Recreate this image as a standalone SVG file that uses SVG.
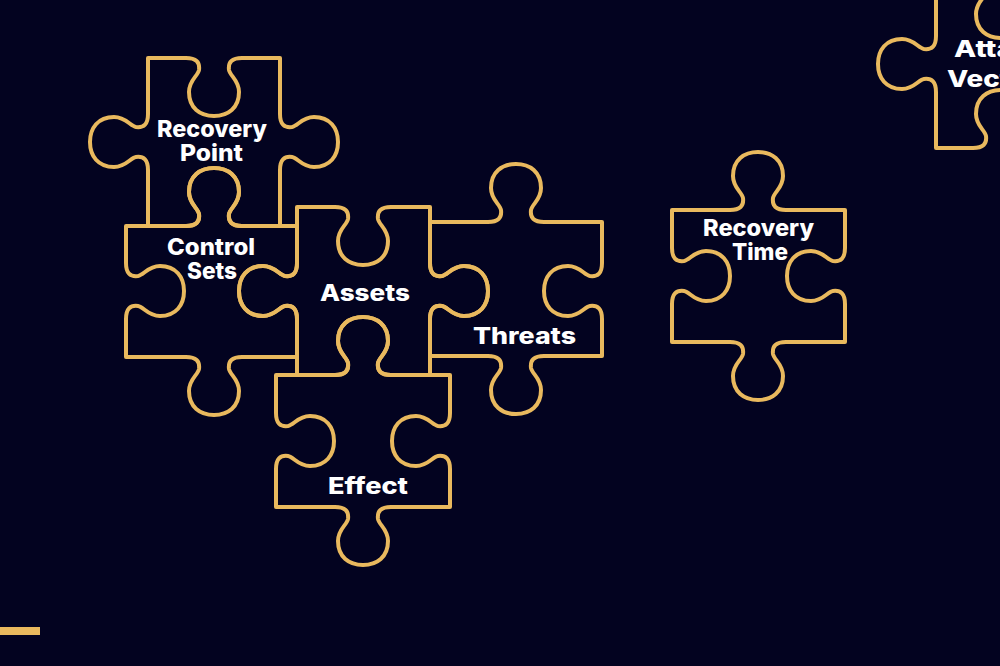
<svg xmlns="http://www.w3.org/2000/svg" width="1000" height="666" viewBox="0 0 1000 666">
<style>
.bg{fill:#030320}
.piece path{fill:none;stroke:#e9b95e;stroke-width:4;stroke-linejoin:round}
.lbl{font-family:Inter,"Liberation Sans",sans-serif;font-weight:800;font-size:23px;fill:#ffffff;text-anchor:middle}
</style>
<rect class="bg" x="0" y="0" width="1000" height="666"/>
<g id="recovery-point" class="piece">
<path d="M148,58 H186 c10,0 14,4 13,12 c-1,6 -10,10 -10,22 c0,16 11,24 25,24 c14,0 25,-8 25,-24 c0,-12 -9,-16 -10,-22 c-1,-8 3,-12 13,-12 H280 V114 c0,10 4,14 12,13 c6,-1 10,-10 22,-10 c16,0 24,11 24,25 c0,14 -8,25 -24,25 c-12,0 -16,-9 -22,-10 c-8,-1 -12,3 -12,13 V226 H242 c-10,0 -14,-4 -13,-12 c1,-6 10,-10 10,-22 c0,-16 -11,-24 -25,-24 c-14,0 -25,8 -25,24 c0,12 9,16 10,22 c1,8 -3,12 -13,12 H148 V170 c0,-10 -4,-14 -12,-13 c-6,1 -10,10 -22,10 c-16,0 -24,-11 -24,-25 c0,-14 8,-25 24,-25 c12,0 16,9 22,10 c8,1 12,-3 12,-13 V58 Z"/>
<text class="lbl"><tspan x="212" y="137" textLength="110" lengthAdjust="spacingAndGlyphs">Recovery</tspan><tspan x="211.5" y="161" textLength="63" lengthAdjust="spacingAndGlyphs">Point</tspan></text>
</g>
<g id="control-sets" class="piece">
<path d="M126,226 H186 c10,0 14,-4 13,-12 c-1,-6 -10,-10 -10,-22 c0,-16 11,-24 25,-24 c14,0 25,8 25,24 c0,12 -9,16 -10,22 c-1,8 3,12 13,12 H297 V263 c0,10 -4,14 -12,13 c-6,-1 -10,-10 -22,-10 c-16,0 -24,11 -24,25 c0,14 8,25 24,25 c12,0 16,-9 22,-10 c8,-1 12,3 12,13 V357 H242 c-10,0 -14,4 -13,12 c1,6 10,10 10,22 c0,16 -11,24 -25,24 c-14,0 -25,-8 -25,-24 c0,-12 9,-16 10,-22 c1,-8 -3,-12 -13,-12 H126 V319 c0,-10 4,-14 12,-13 c6,1 10,10 22,10 c16,0 24,-11 24,-25 c0,-14 -8,-25 -24,-25 c-12,0 -16,9 -22,10 c-8,1 -12,-3 -12,-13 V226 Z"/>
<text class="lbl"><tspan x="211" y="255" textLength="88" lengthAdjust="spacingAndGlyphs">Control</tspan><tspan x="212" y="279" textLength="50" lengthAdjust="spacingAndGlyphs">Sets</tspan></text>
</g>
<g id="assets" class="piece">
<path d="M297,207 H335 c10,0 14,4 13,12 c-1,6 -10,10 -10,22 c0,16 11,24 25,24 c14,0 25,-8 25,-24 c0,-12 -9,-16 -10,-22 c-1,-8 3,-12 13,-12 H430 V263 c0,10 4,14 12,13 c6,-1 10,-10 22,-10 c16,0 24,11 24,25 c0,14 -8,25 -24,25 c-12,0 -16,-9 -22,-10 c-8,-1 -12,3 -12,13 V375 H391 c-10,0 -14,-4 -13,-12 c1,-6 10,-10 10,-22 c0,-16 -11,-24 -25,-24 c-14,0 -25,8 -25,24 c0,12 9,16 10,22 c1,8 -3,12 -13,12 H297 V319 c0,-10 -4,-14 -12,-13 c-6,1 -10,10 -22,10 c-16,0 -24,-11 -24,-25 c0,-14 8,-25 24,-25 c12,0 16,9 22,10 c8,1 12,-3 12,-13 V207 Z"/>
<text class="lbl" x="365" y="301" textLength="90" lengthAdjust="spacingAndGlyphs">Assets</text>
</g>
<g id="threats" class="piece">
<path d="M430,222 H488 c10,0 14,-4 13,-12 c-1,-6 -10,-10 -10,-22 c0,-16 11,-24 25,-24 c14,0 25,8 25,24 c0,12 -9,16 -10,22 c-1,8 3,12 13,12 H602 V263 c0,10 -4,14 -12,13 c-6,-1 -10,-10 -22,-10 c-16,0 -24,11 -24,25 c0,14 8,25 24,25 c12,0 16,-9 22,-10 c8,-1 12,3 12,13 V356 H544 c-10,0 -14,4 -13,12 c1,6 10,10 10,22 c0,16 -11,24 -25,24 c-14,0 -25,-8 -25,-24 c0,-12 9,-16 10,-22 c1,-8 -3,-12 -13,-12 H430 V319 c0,-10 4,-14 12,-13 c6,1 10,10 22,10 c16,0 24,-11 24,-25 c0,-14 -8,-25 -24,-25 c-12,0 -16,9 -22,10 c-8,1 -12,-3 -12,-13 V222 Z"/>
<text class="lbl" x="524.5" y="344" textLength="103" lengthAdjust="spacingAndGlyphs">Threats</text>
</g>
<g id="effect" class="piece">
<path d="M276,375 H335 c10,0 14,-4 13,-12 c-1,-6 -10,-10 -10,-22 c0,-16 11,-24 25,-24 c14,0 25,8 25,24 c0,12 -9,16 -10,22 c-1,8 3,12 13,12 H450 V413 c0,10 -4,14 -12,13 c-6,-1 -10,-10 -22,-10 c-16,0 -24,11 -24,25 c0,14 8,25 24,25 c12,0 16,-9 22,-10 c8,-1 12,3 12,13 V507 H391 c-10,0 -14,4 -13,12 c1,6 10,10 10,22 c0,16 -11,24 -25,24 c-14,0 -25,-8 -25,-24 c0,-12 9,-16 10,-22 c1,-8 -3,-12 -13,-12 H276 V469 c0,-10 4,-14 12,-13 c6,1 10,10 22,10 c16,0 24,-11 24,-25 c0,-14 -8,-25 -24,-25 c-12,0 -16,9 -22,10 c-8,1 -12,-3 -12,-13 V375 Z"/>
<text class="lbl" x="368" y="494" textLength="80" lengthAdjust="spacingAndGlyphs">Effect</text>
</g>
<g id="recovery-time" class="piece">
<path d="M672,210 H730 c10,0 14,-4 13,-12 c-1,-6 -10,-10 -10,-22 c0,-16 11,-24 25,-24 c14,0 25,8 25,24 c0,12 -9,16 -10,22 c-1,8 3,12 13,12 H845 V248 c0,10 -4,14 -12,13 c-6,-1 -10,-10 -22,-10 c-16,0 -24,11 -24,25 c0,14 8,25 24,25 c12,0 16,-9 22,-10 c8,-1 12,3 12,13 V342 H786 c-10,0 -14,4 -13,12 c1,6 10,10 10,22 c0,16 -11,24 -25,24 c-14,0 -25,-8 -25,-24 c0,-12 9,-16 10,-22 c1,-8 -3,-12 -13,-12 H672 V304 c0,-10 4,-14 12,-13 c6,1 10,10 22,10 c16,0 24,-11 24,-25 c0,-14 -8,-25 -24,-25 c-12,0 -16,9 -22,10 c-8,1 -12,-3 -12,-13 V210 Z"/>
<text class="lbl"><tspan x="758.5" y="236" textLength="111" lengthAdjust="spacingAndGlyphs">Recovery</tspan><tspan x="760" y="260" textLength="56" lengthAdjust="spacingAndGlyphs">Time</tspan></text>
</g>
<g id="attack-vectors" class="piece">
<path d="M936,-20 H973 c10,0 14,4 13,12 c-1,6 -10,10 -10,22 c0,16 11,24 25,24 c14,0 25,-8 25,-24 c0,-12 -9,-16 -10,-22 c-1,-8 3,-12 13,-12 H1067 V36 c0,10 4,14 12,13 c6,-1 10,-10 22,-10 c16,0 24,11 24,25 c0,14 -8,25 -24,25 c-12,0 -16,-9 -22,-10 c-8,-1 -12,3 -12,13 V148 H1029 c-10,0 -14,-4 -13,-12 c1,-6 10,-10 10,-22 c0,-16 -11,-24 -25,-24 c-14,0 -25,8 -25,24 c0,12 9,16 10,22 c1,8 -3,12 -13,12 H936 V92 c0,-10 -4,-14 -12,-13 c-6,1 -10,10 -22,10 c-16,0 -24,-11 -24,-25 c0,-14 8,-25 24,-25 c12,0 16,9 22,10 c8,1 12,-3 12,-13 V-20 Z"/>
<text class="lbl"><tspan x="1001" y="57" textLength="94" lengthAdjust="spacingAndGlyphs">Attack</tspan><tspan x="1001" y="87" textLength="108" lengthAdjust="spacingAndGlyphs">Vectors</tspan></text>
</g>
<rect x="0" y="627" width="40" height="8" fill="#e9b95e"/>
</svg>
